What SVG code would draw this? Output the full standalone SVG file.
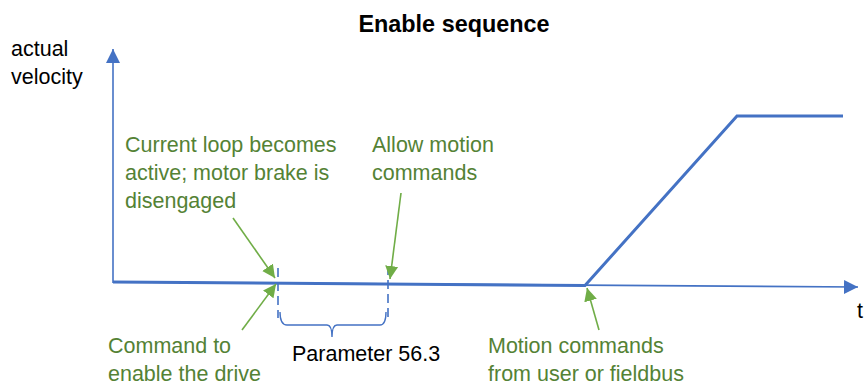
<svg xmlns="http://www.w3.org/2000/svg" width="864" height="387" viewBox="0 0 864 387">
<style>
.ax{stroke:#4472C4;stroke-width:1.6;fill:none}
.vel{stroke:#4472C4;stroke-width:3;fill:none;stroke-linejoin:miter}
.dash{stroke:#4472C4;stroke-width:1.6;fill:none;stroke-dasharray:9,5}
.brace{stroke:#4472C4;stroke-width:1.4;fill:none}
.gar{stroke:#70AD47;stroke-width:1.6;fill:none}
.g{font-family:"Liberation Sans",Arial,sans-serif;font-size:21.5px;fill:#548235}
.k{font-family:"Liberation Sans",Arial,sans-serif;font-size:21.5px;fill:#000}
.title{font-family:"Liberation Sans",Arial,sans-serif;font-size:23.4px;font-weight:bold;fill:#000}
</style>
<defs>
<marker id="bh" markerUnits="userSpaceOnUse" markerWidth="16" markerHeight="16" viewBox="0 0 16 16" refX="14" refY="8" orient="auto">
<path d="M0,1 L14,8 L0,15 Z" fill="#4472C4"/>
</marker>
<marker id="gh" markerUnits="userSpaceOnUse" markerWidth="14" markerHeight="14" viewBox="0 0 14 14" refX="13" refY="7" orient="auto">
<path d="M0,0.5 L13,7 L0,13.5 Z" fill="#70AD47"/>
</marker>
</defs>
<text class="title" x="454" y="32" text-anchor="middle">Enable sequence</text>
<g id="axes">
<line class="ax" x1="113" y1="283" x2="113" y2="49" marker-end="url(#bh)"/>
<line class="ax" x1="113" y1="282" x2="858" y2="287" marker-end="url(#bh)"/>
<text class="k" x="11" y="56">actual</text>
<text class="k" x="11" y="84">velocity</text>
<text class="k" x="857" y="318">t</text>
</g>
<g id="velocity">
<polyline class="vel" points="113,282 585,285.5 737,116 843,116"/>
</g>
<g id="param">
<line class="dash" x1="278" y1="268" x2="278" y2="318"/>
<line class="dash" x1="388" y1="266" x2="388" y2="318"/>
<path class="brace" d="M280,312 Q280,325 287,325 L327,325 Q332,325 332,337 Q332,325 337,325 L380,325 Q386,325 386,312"/>
<text class="k" x="292" y="361">Parameter 56.3</text>
</g>
<g id="connectors">
<line class="gar" x1="233" y1="218" x2="275" y2="278" marker-end="url(#gh)"/>
<line class="gar" x1="242" y1="330" x2="276" y2="284" marker-end="url(#gh)"/>
<line class="gar" x1="401" y1="193" x2="390" y2="279" marker-end="url(#gh)"/>
<line class="gar" x1="599" y1="330" x2="587" y2="288" marker-end="url(#gh)"/>
</g>
<g id="current-loop">
<text class="g" x="125" y="152">Current loop becomes</text>
<text class="g" x="125" y="180">active; motor brake is</text>
<text class="g" x="125" y="208">disengaged</text>
</g>
<g id="allow-motion">
<text class="g" x="372" y="152">Allow motion</text>
<text class="g" x="372" y="180">commands</text>
</g>
<g id="command-enable">
<text class="g" x="108" y="353">Command to</text>
<text class="g" x="108" y="381">enable the drive</text>
</g>
<g id="motion-commands">
<text class="g" x="488" y="353">Motion commands</text>
<text class="g" x="488" y="381">from user or fieldbus</text>
</g>
</svg>
